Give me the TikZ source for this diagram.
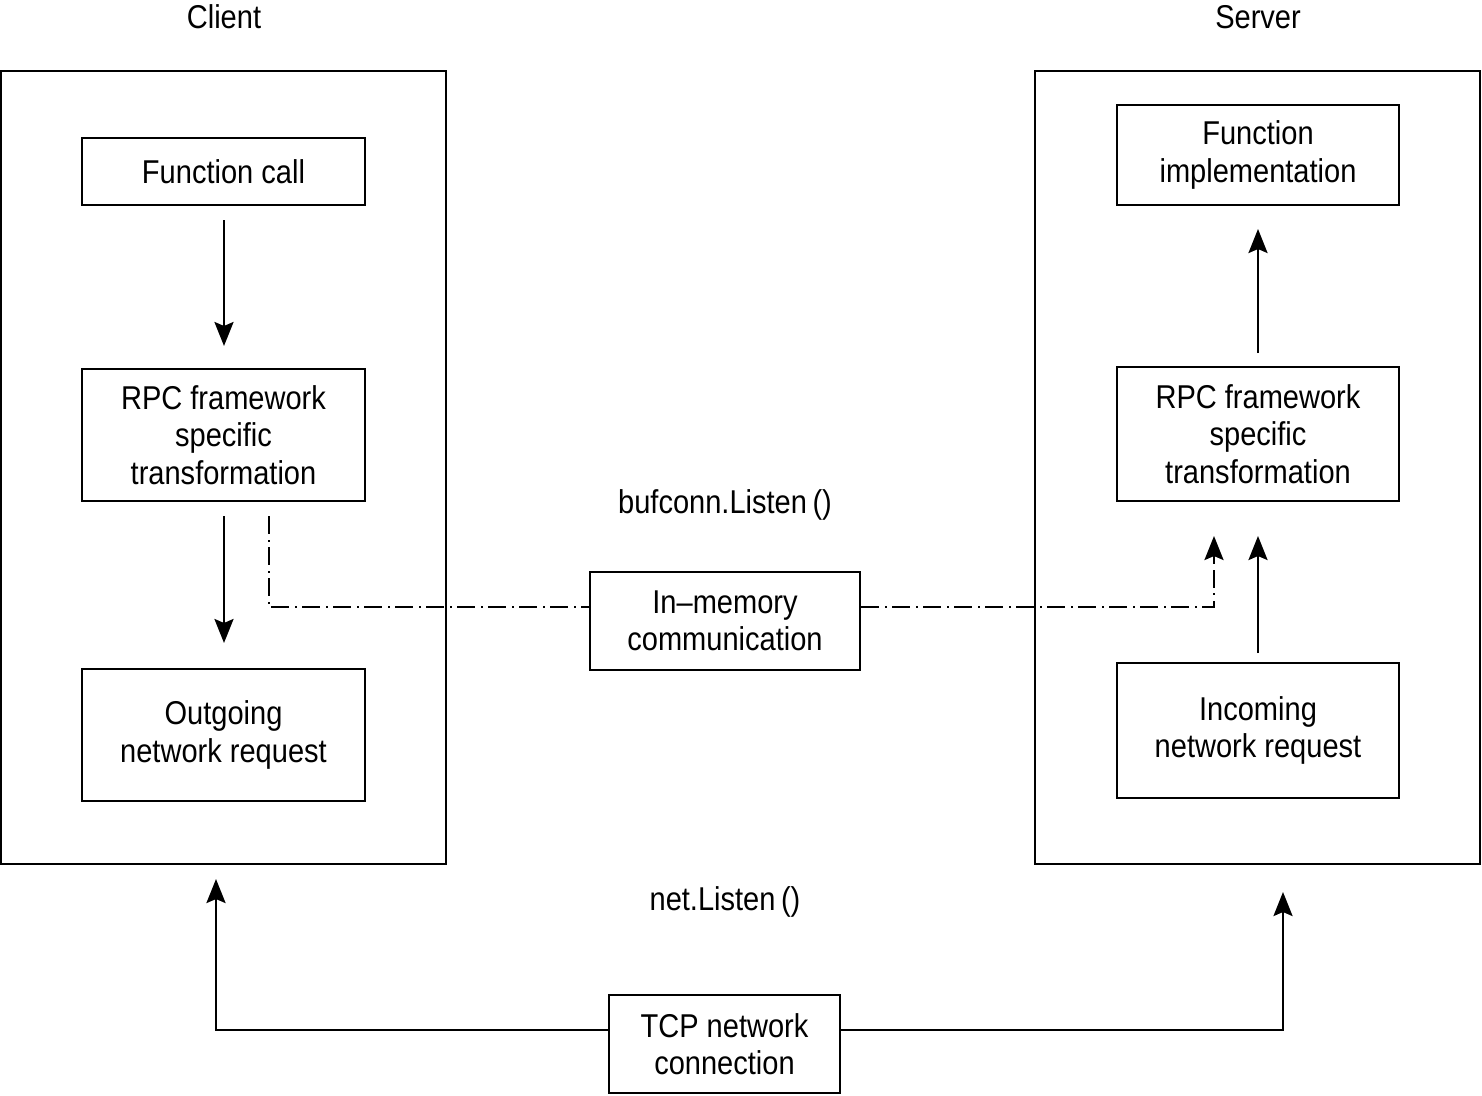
\documentclass[tikz,border=0pt]{standalone}
\usepackage{fontspec}
\setmainfont{Liberation Sans}[FakeStretch=0.88]
\usetikzlibrary{arrows.meta}
\begin{document}
\begin{tikzpicture}[x=1pt,y=-1pt,
  line width=2.6pt,
  frame/.style={draw, line width=2.6pt},
  box/.style={draw, line width=2.6pt, align=center, inner sep=0pt,
    font=\fontsize{33}{37.5}\selectfont},
  lbl/.style={font=\fontsize{33}{37.5}\selectfont, inner sep=0pt},
  arr/.style={-{Stealth[length=24pt,width=19pt,inset=4pt]}, line width=2.6pt},
  dd/.style={line width=2.6pt, dash pattern=on 18pt off 6pt on 2pt off 5pt}]
\useasboundingbox (0,0) rectangle (1482,1095);
% titles
\node[lbl] (client) at (224,17) {Client};
\node[lbl] (server) at (1258,17) {Server};
% frames
\draw[frame] (1,71) rectangle (446,864);
\draw[frame] (1035,71) rectangle (1480,864);
% client boxes
\node[box, minimum width=283pt, minimum height=67pt] (fc) at (223.5,171.5) {Function call};
\node[box, minimum width=283pt, minimum height=132pt] (rpcl) at (223.5,435) {RPC framework\\specific\\transformation};
\node[box, minimum width=283pt, minimum height=132pt] (out) at (223.5,735) {Outgoing\\network request};
% server boxes
\node[box, minimum width=282pt, minimum height=100pt] (fi) at (1258,155) {Function\\implementation};
\node[box, minimum width=282pt, minimum height=134pt] (rpcs) at (1258,434) {RPC framework\\specific\\transformation};
\node[box, minimum width=282pt, minimum height=135pt] (inc) at (1258,730.5) {Incoming\\network request};
% middle
\node[box, minimum width=270pt, minimum height=98pt] (mem) at (725,621) {In--memory\\communication};
\node[box, minimum width=231pt, minimum height=98pt] (tcp) at (724.5,1044) {TCP network\\connection};
\node[lbl] (buf) at (725,505) {bufconn.Listen\,()};
\node[lbl] (net) at (725,902) {net.Listen\,()};
% coordinates
\coordinate (a1s) at (224,220);
\coordinate (a1e) at (224,346);
\coordinate (a2s) at (224,516);
\coordinate (a2e) at (224,643);
\coordinate (d1s) at (269,516);
\coordinate (d1c) at (269,607);
\coordinate (d2c) at (1214,607);
\coordinate (d2m) at (1214,562);
\coordinate (d2e) at (1214,536);
\coordinate (s1s) at (1258,353);
\coordinate (s1e) at (1258,229);
\coordinate (s2s) at (1258,653);
\coordinate (s2e) at (1258,536);
\coordinate (t1c) at (216,1030);
\coordinate (t1e) at (216,879);
\coordinate (t2c) at (1283,1030);
\coordinate (t2e) at (1283,892);
% arrows
\draw[arr] (a1s) -- (a1e);
\draw[arr] (a2s) -- (a2e);
\draw[arr] (s1s) -- (s1e);
\draw[arr] (s2s) -- (s2e);
\draw[dd] (d1s) -- (d1c) -- (mem.west |- d1c);
\draw[dd] (mem.east |- d2c) -- (d2c) -- (d2m);
\draw[arr] (d2m) -- (d2e);
\draw[arr] (tcp.west |- t1c) -- (t1c) -- (t1e);
\draw[arr] (tcp.east |- t2c) -- (t2c) -- (t2e);
\end{tikzpicture}
\end{document}
